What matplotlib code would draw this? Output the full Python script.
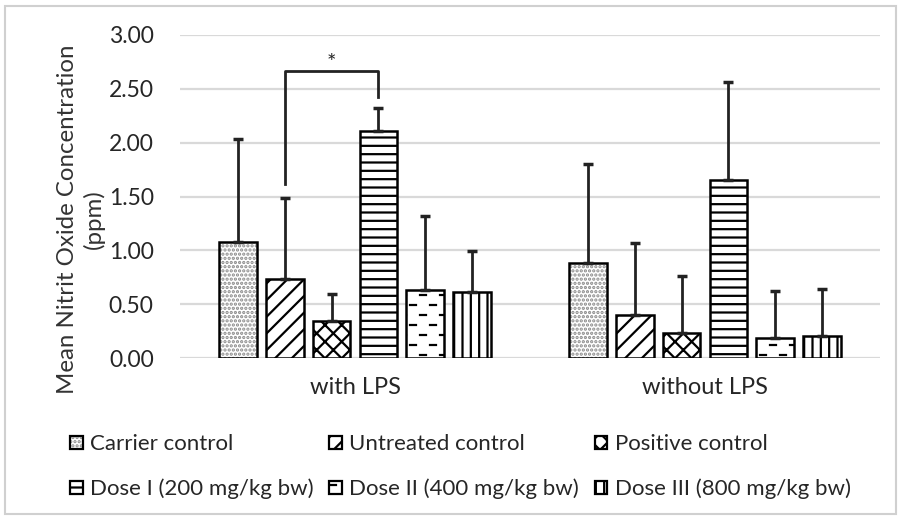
import numpy as np
import matplotlib
matplotlib.use("Agg")
import matplotlib.pyplot as plt
import matplotlib.hatch as mhatch
from matplotlib.path import Path
from matplotlib.patches import Rectangle, Patch

# short staggered dashes, like the Excel "dashed" fill used for Dose II
class DashHatch(mhatch.HatchPatternBase):
    def __init__(self, hatch, density):
        self.num_rows = hatch.count('_') * 10
        self.num_cols = self.num_rows // 2
        self.num_vertices = self.num_rows * self.num_cols * 2

    def set_vertices_and_codes(self, vertices, codes):
        k = 0
        step = 1.0 / self.num_cols
        for j in range(self.num_rows):
            y = (j + 0.5) / self.num_rows
            shift = 0.5 * step if j % 2 else 0.0
            for i in range(self.num_cols):
                x0 = i * step + shift
                vertices[k] = (x0, y)
                vertices[k + 1] = (x0 + 0.3 * step, y)
                codes[k] = Path.MOVETO
                codes[k + 1] = Path.LINETO
                k += 2

mhatch._hatch_types.append(DashHatch)

plt.rcParams['font.family'] = ['Lato', 'DejaVu Sans']
plt.rcParams['hatch.linewidth'] = 1.6
plt.rcParams['text.color'] = '#262626'

groups = ['with LPS', 'without LPS']
series = ['Carrier control', 'Untreated control', 'Positive control',
          'Dose I (200 mg/kg bw)', 'Dose II (400 mg/kg bw)', 'Dose III (800 mg/kg bw)']
means = {
    'Carrier control':         [1.08, 0.88],
    'Untreated control':       [0.73, 0.40],
    'Positive control':        [0.34, 0.23],
    'Dose I (200 mg/kg bw)':   [2.11, 1.65],
    'Dose II (400 mg/kg bw)':  [0.63, 0.19],
    'Dose III (800 mg/kg bw)': [0.61, 0.20],
}
sds = {
    'Carrier control':         [0.95, 0.92],
    'Untreated control':       [0.76, 0.67],
    'Positive control':        [0.25, 0.53],
    'Dose I (200 mg/kg bw)':   [0.21, 0.91],
    'Dose II (400 mg/kg bw)':  [0.69, 0.43],
    'Dose III (800 mg/kg bw)': [0.38, 0.44],
}
hatches = ['....', '//', 'xx', '--', '_', '||']
hatch_colors = ['#8a8a8a', 'black', 'black', 'black', 'black', 'black']
yticks = [0.0, 0.5, 1.0, 1.5, 2.0, 2.5, 3.0]

fig = plt.figure(figsize=(9.01, 5.2), dpi=100)
ax = fig.add_axes([0.1998, 0.3115, 0.7769, 0.6212])

x = np.arange(len(groups))
step = 0.134
width = 0.108
handles = []
for i, name in enumerate(series):
    pos = x + (i - 2.5) * step
    vals = means[name]
    err = [np.zeros(len(vals)), sds[name]]
    # hatch layer (hatch takes the edge colour) then a black outline on top
    ax.bar(pos, vals, width, color='white', edgecolor=hatch_colors[i], linewidth=0,
           hatch=hatches[i], zorder=3)
    ax.bar(pos, vals, width, fill=False, edgecolor='black', linewidth=1.8, zorder=3.5)
    ax.errorbar(pos, vals, yerr=err, fmt='none', ecolor='#222222', elinewidth=2,
                capsize=3.3, capthick=2.5, zorder=4)
    h1 = Patch(facecolor='white', edgecolor=hatch_colors[i], linewidth=0, hatch=hatches[i])
    h2 = Patch(fill=False, edgecolor='black', linewidth=1.6)
    handles.append((h1, h2))

# significance bracket between untreated control and dose I (with LPS)
bx1 = x[0] + (1 - 2.5) * step
bx2 = x[0] + (3 - 2.5) * step
ax.plot([bx1, bx1, bx2, bx2], [1.62, 2.67, 2.67, 2.42], color='#222222', lw=2,
        zorder=5, solid_joinstyle='round')
ax.text((bx1 + bx2) / 2, 2.74, '*', ha='center', va='center', fontsize=16)

ax.set_xlim(-0.5, 1.5)
ax.set_ylim(0, 3.0)
ax.set_yticks(yticks)
ax.set_yticklabels([f'{t:.2f}' for t in yticks], fontsize=16.5)
ax.set_xticks(x)
ax.set_xticklabels(groups, fontsize=17)
ax.tick_params(axis='y', length=0, pad=19, labelcolor='#262626')
ax.tick_params(axis='x', length=0, pad=14, labelcolor='#262626')
ax.grid(axis='y', color='#d9d9d9', linewidth=1.6, zorder=0)
for s in ax.spines.values():
    s.set_visible(False)
ax.set_ylabel('Mean Nitrit Oxide Concentration\n(ppm)', fontsize=17.3,
              color='#333333', linespacing=1.25)
ax.yaxis.set_label_coords(-0.108, 0.43)

order = [0, 3, 1, 4, 2, 5]
fig.legend([handles[k] for k in order], [series[k] for k in order], ncol=3,
           loc='upper left', bbox_to_anchor=(0.078, 0.165), frameon=False,
           fontsize=16, handlelength=0.55, handleheight=0.55, handletextpad=0.35,
           columnspacing=0.7, labelspacing=1.1, borderaxespad=0, borderpad=0)

fig.patches.append(Rectangle((0.006, 0.012), 0.988, 0.976, transform=fig.transFigure,
                             fill=False, edgecolor='#d0d0d0', linewidth=1.5))

fig.savefig('out.png', dpi=100)
